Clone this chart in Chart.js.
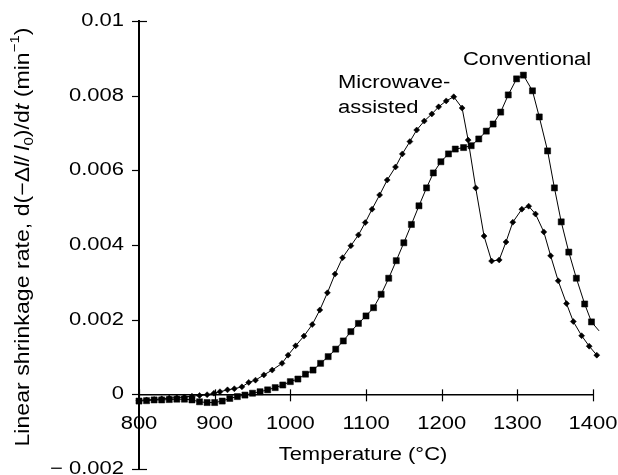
<!DOCTYPE html>
<html>
<head>
<meta charset="utf-8">
<script src="https://cdn.jsdelivr.net/npm/chart.js@4.4.0/dist/chart.umd.min.js"></script>
<style>
  html, body { margin: 0; padding: 0; background: #fff; }
</style>
</head>
<body>
<canvas id="shrinkChart" width="618" height="475"></canvas>
<script>
// Tick values
const xTicks = [800, 900, 1000, 1100, 1200, 1300, 1400];
const yTicks = [-0.002, 0, 0.002, 0.004, 0.006, 0.008, 0.01];
const yTickLabels = ['\u2212 0.002', '0', '0.002', '0.004', '0.006', '0.008', '0.01'];

// Microwave-assisted series (diamonds)
const mwTemp = [800, 810, 820, 830, 840, 850, 860, 870, 880, 890,
  899, 907, 917, 926, 936, 945, 954, 965, 976, 989,
  997, 1007, 1018, 1029, 1039, 1049, 1059, 1069, 1080, 1090,
  1099, 1108, 1118, 1128, 1139, 1148, 1158, 1167, 1177, 1187,
  1196, 1206, 1216, 1227, 1235, 1245, 1256, 1266, 1276, 1285,
  1294, 1306, 1315, 1324, 1335, 1344, 1354, 1365, 1374, 1385,
  1395, 1405];
const mwRate = [-0.00016, -0.00015, -0.00014, -0.00012, -0.0001, -0.00009, -0.00007, -0.00005, -0.00003, -0.00001,
  0.00003, 0.00007, 0.00012, 0.00015, 0.0002, 0.00032, 0.00038, 0.00052, 0.00065, 0.00083,
  0.00105, 0.0013, 0.00156, 0.00187, 0.00226, 0.00272, 0.00322, 0.00366, 0.00398, 0.00427,
  0.0046, 0.00496, 0.00534, 0.00574, 0.00609, 0.00644, 0.00677, 0.00708, 0.00732, 0.00751,
  0.0077, 0.00786, 0.00797, 0.00767, 0.00681, 0.00553, 0.00424, 0.00357, 0.0036, 0.00408,
  0.00461, 0.00496, 0.00504, 0.00483, 0.00435, 0.00371, 0.00304, 0.00243, 0.00195, 0.00157,
  0.00129, 0.00105];

// Conventional series (squares)
const convTemp = [800, 810, 820, 830, 840, 850, 860, 870, 880, 890,
  900, 910, 920, 930, 940, 950, 960, 970, 980, 990,
  1000, 1010, 1020, 1030, 1040, 1050, 1060, 1070, 1080, 1090,
  1100, 1110, 1120, 1130, 1140, 1150, 1160, 1170, 1180, 1189,
  1199, 1209, 1218, 1229, 1239, 1249, 1259, 1268, 1278, 1288,
  1299, 1308, 1320, 1329, 1340, 1349, 1358, 1368, 1378, 1389,
  1398, 1408];
const convRate = [-0.00018, -0.00017, -0.00015, -0.00015, -0.00014, -0.00013, -0.00013, -0.00015, -0.0002, -0.00022,
  -0.00022, -0.00018, -0.00011, -0.00006, -0.00002, 0.00003, 0.00007, 0.00012, 0.00018, 0.00025,
  0.00034, 0.00041, 0.00054, 0.00065, 0.00083, 0.00101, 0.00121, 0.00143, 0.00168, 0.0019,
  0.0021, 0.00232, 0.00268, 0.00311, 0.00358, 0.00406, 0.00455, 0.00505, 0.00553, 0.00593,
  0.00623, 0.00644, 0.00657, 0.00661, 0.00666, 0.00684, 0.00705, 0.00724, 0.00756, 0.00802,
  0.00845, 0.00855, 0.00813, 0.00743, 0.00652, 0.00553, 0.00462, 0.00381, 0.00311, 0.00242,
  0.00194, 0.0017];

const FONT = '"Liberation Sans", Arial, Helvetica, sans-serif';
const SX = 1.22; // the figure's lettering is a bit wide

function toPoints(xs, ys) {
  return xs.map((x, i) => ({ x: x, y: ys[i] }));
}

function wideText(ctx, str, x, y, align, size) {
  ctx.save();
  ctx.font = size + 'px ' + FONT;
  ctx.textAlign = align;
  ctx.textBaseline = 'middle';
  ctx.fillStyle = '#000';
  ctx.translate(x, y);
  ctx.scale(SX, 1);
  ctx.fillText(str, 0, 0);
  ctx.restore();
}

// y title pieces: Linear shrinkage rate, d(-Δl/l0)/dt (min-1)
const titleParts = [
  { t: 'Linear shrinkage rate, d(\u2212\u0394' },
  { t: 'l', it: true },
  { t: '/\u2009' },
  { t: 'l', it: true },
  { t: '0', sub: true },
  { t: ')/d' },
  { t: 't', it: true },
  { t: ' (min' },
  { t: '\u22121', sup: true },
  { t: ')' }
];

function partFont(p, size) {
  const s = (p.sub || p.sup) ? Math.round(size * 0.65) : size;
  return (p.it ? 'italic ' : '') + s + 'px ' + FONT;
}

function drawYTitle(ctx, cx, cy, length, size) {
  ctx.save();
  let total = 0;
  const widths = titleParts.map(p => {
    ctx.font = partFont(p, size);
    const w = ctx.measureText(p.t).width;
    total += w;
    return w;
  });
  ctx.translate(cx, cy);
  ctx.rotate(-Math.PI / 2);
  ctx.scale(length / total, 1);
  ctx.textBaseline = 'middle';
  ctx.textAlign = 'left';
  ctx.fillStyle = '#000';
  let pos = -total / 2;
  titleParts.forEach((p, i) => {
    ctx.font = partFont(p, size);
    let dy = 0;
    if (p.sub) dy = size * 0.3;
    if (p.sup) dy = -size * 0.38;
    ctx.fillText(p.t, pos, dy);
    pos += widths[i];
  });
  ctx.restore();
}

function line(ctx, x1, y1, x2, y2) {
  ctx.beginPath();
  ctx.moveTo(x1, y1);
  ctx.lineTo(x2, y2);
  ctx.stroke();
}

const textPlugin = {
  id: 'figureText',
  afterDraw(chart) {
    const ctx = chart.ctx;
    const xs = chart.scales.x;
    const ys = chart.scales.y;
    const zeroY = ys.getPixelForValue(0);
    const axisX = xs.left;

    // tick marks
    ctx.save();
    ctx.strokeStyle = '#000';
    ctx.lineWidth = 1.2;
    yTicks.forEach((v, i) => {
      const py = Math.round(ys.getPixelForValue(v)) + 0.5;
      const isEnd = (i === 0 || i === yTicks.length - 1);
      line(ctx, axisX - 7, py, axisX + (isEnd ? 8 : 1), py);
    });
    xTicks.forEach(v => {
      const px = Math.round(xs.getPixelForValue(v)) + 0.5;
      line(ctx, px, zeroY - 5, px, zeroY + 7);
    });
    ctx.restore();

    yTicks.forEach((v, i) => {
      wideText(ctx, yTickLabels[i], 124, ys.getPixelForValue(v), 'right', 18);
    });
    xTicks.forEach(v => {
      wideText(ctx, String(v), xs.getPixelForValue(v), zeroY + 30, 'center', 18);
    });

    wideText(ctx, 'Temperature (\u00b0C)', 363, 455, 'center', 18);
    wideText(ctx, 'Conventional', 463, 60, 'left', 18);
    wideText(ctx, 'Microwave-', 338, 83, 'left', 18);
    wideText(ctx, 'assisted', 338, 108, 'left', 18);

    drawYTitle(ctx, 23, 237, 419, 20);
  }
};

const hiddenTicks = { display: true, color: 'rgba(0,0,0,0)', font: { size: 1 }, padding: 0 };

const ctx = document.getElementById('shrinkChart').getContext('2d');
new Chart(ctx, {
  type: 'line',
  data: {
    datasets: [
      {
        label: 'Microwave-assisted',
        data: toPoints(mwTemp, mwRate),
        borderColor: '#000',
        borderWidth: 1,
        backgroundColor: '#000',
        pointStyle: 'rectRot',
        pointRadius: 3,
        pointBorderWidth: 0.5,
        pointBackgroundColor: '#000',
        pointBorderColor: '#000',
        tension: 0,
        clip: { left: 10, top: 10, right: 8, bottom: 10 }
      },
      {
        label: 'Conventional',
        data: toPoints(convTemp, convRate),
        borderColor: '#000',
        borderWidth: 1,
        backgroundColor: '#000',
        pointStyle: 'rect',
        pointRadius: 4.3,
        pointBorderWidth: 0.5,
        pointBackgroundColor: '#000',
        pointBorderColor: '#000',
        tension: 0,
        clip: { left: 10, top: 10, right: 8, bottom: 10 }
      }
    ]
  },
  options: {
    responsive: false,
    animation: false,
    events: [],
    layout: { padding: { left: 0, top: 21, right: 25, bottom: 6 } },
    plugins: {
      legend: { display: false },
      tooltip: { enabled: false }
    },
    scales: {
      x: {
        type: 'linear',
        min: 800,
        max: 1400,
        position: { y: 0 },
        afterBuildTicks: s => { s.ticks = xTicks.map(v => ({ value: v })); },
        ticks: hiddenTicks,
        grid: { display: false },
        border: { color: '#000', width: 1.5 }
      },
      y: {
        type: 'linear',
        min: -0.002,
        max: 0.01,
        position: 'left',
        afterBuildTicks: s => { s.ticks = yTicks.map(v => ({ value: v })); },
        afterFit: s => { s.width = 139; },
        ticks: hiddenTicks,
        grid: { display: false },
        border: { color: '#000', width: 2 }
      }
    }
  },
  plugins: [textPlugin]
});
</script>
</body>
</html>
